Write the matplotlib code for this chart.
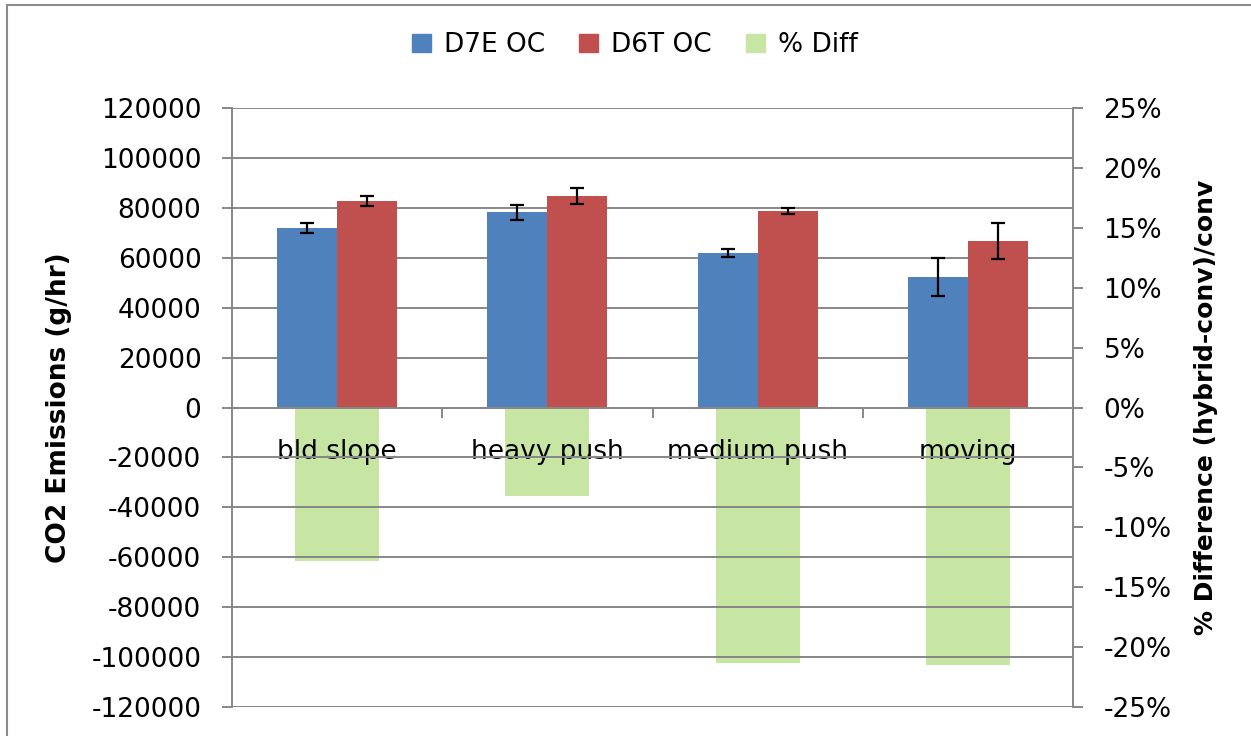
import numpy as np
import matplotlib
matplotlib.use('Agg')
import matplotlib.pyplot as plt
from matplotlib.patches import Rectangle, Patch
from matplotlib.ticker import FuncFormatter, MultipleLocator

# donnees
categories = ['bld slope', 'heavy push', 'medium push', 'moving']
d7e = [72000, 78300, 62000, 52300]
d7e_err = [2100, 3000, 1700, 7500]
d6t = [82700, 84800, 78700, 66700]
d6t_err = [2000, 3100, 1200, 7400]
pct_diff = [-12.8, -7.4, -21.3, -21.5]

blue = '#4F81BD'
red = '#C0504D'
green = '#C7E5A3'
grey = '#878787'

plt.rcParams['font.family'] = 'DejaVu Sans'
plt.rcParams['axes.unicode_minus'] = False

fig = plt.figure(figsize=(12.51, 7.36), dpi=100)
ax = fig.add_axes([232/1251, 1-707/736, (1073-232)/1251, (707-108)/736])
ax2 = ax.twinx()

x = np.arange(len(categories))

# axe secondaire (% diff) dessine en dessous
ax2.bar(x, pct_diff, width=0.4, color=green)
ax.set_zorder(2)
ax2.set_zorder(1)
ax.patch.set_visible(False)

err_kw = dict(ecolor='black', capsize=5, elinewidth=1.6, capthick=1.6)
w = 0.285
ax.bar(x - w/2, d7e, w, yerr=d7e_err, color=blue, error_kw=err_kw, label='D7E OC')
ax.bar(x + w/2, d6t, w, yerr=d6t_err, color=red, error_kw=err_kw, label='D6T OC')

ax.set_xlim(-0.5, len(categories) - 0.5)
ax.set_ylim(-120000, 120000)
ax2.set_ylim(-25, 25)

ax.yaxis.set_major_locator(MultipleLocator(20000))
ax.yaxis.set_major_formatter(FuncFormatter(lambda v, p: f'{int(round(v))}'))
ax2.yaxis.set_major_locator(MultipleLocator(5))
ax2.yaxis.set_major_formatter(FuncFormatter(lambda v, p: f'{int(round(v))}%'))

ax.yaxis.grid(True, color=grey, lw=1.4)
ax.set_axisbelow(True)

for s in ['top', 'right']:
    ax.spines[s].set_visible(False)
for s in ['top', 'left', 'bottom']:
    ax2.spines[s].set_visible(False)
ax.spines['left'].set_color(grey)
ax.spines['left'].set_linewidth(1.4)
ax.spines['bottom'].set_position(('data', 0))
ax.spines['bottom'].set_color(grey)
ax.spines['bottom'].set_linewidth(1.4)
ax2.spines['right'].set_color(grey)
ax2.spines['right'].set_linewidth(1.4)

ax.set_xticks(x)
ax.set_xticklabels(categories, fontsize=19)
ax.set_xticks(x[:-1] + 0.5, minor=True)
ax.tick_params(axis='x', which='major', length=0, pad=23)
ax.tick_params(axis='x', which='minor', length=7, width=1.4, color=grey)

ax.tick_params(axis='y', labelsize=19, length=7, width=1.4, color=grey, pad=15)
ax2.tick_params(axis='y', labelsize=19, length=7, width=1.4, color=grey, pad=15)

ax.set_ylabel('CO2 Emissions (g/hr)', fontsize=19, fontweight='bold', labelpad=14)
ax2.set_ylabel('% Difference (hybrid-conv)/conv', fontsize=18, fontweight='bold', labelpad=16)

handles = [Patch(color=blue), Patch(color=red), Patch(color=green)]
fig.legend(handles, ['D7E OC', 'D6T OC', '% Diff'], loc='center',
           bbox_to_anchor=(635/1251, 1-45/736), ncol=3, frameon=False,
           fontsize=19, handlelength=0.7, handleheight=0.7,
           handletextpad=0.5, columnspacing=1.3)

# cadre du graphique
fig.add_artist(Rectangle((6.5/1251, -0.05), 1.1, 1.05 - 4.5/736,
                         transform=fig.transFigure, fill=False,
                         ec='#8c8c8c', lw=1.5))

fig.savefig('out.png', dpi=100, facecolor='white')
